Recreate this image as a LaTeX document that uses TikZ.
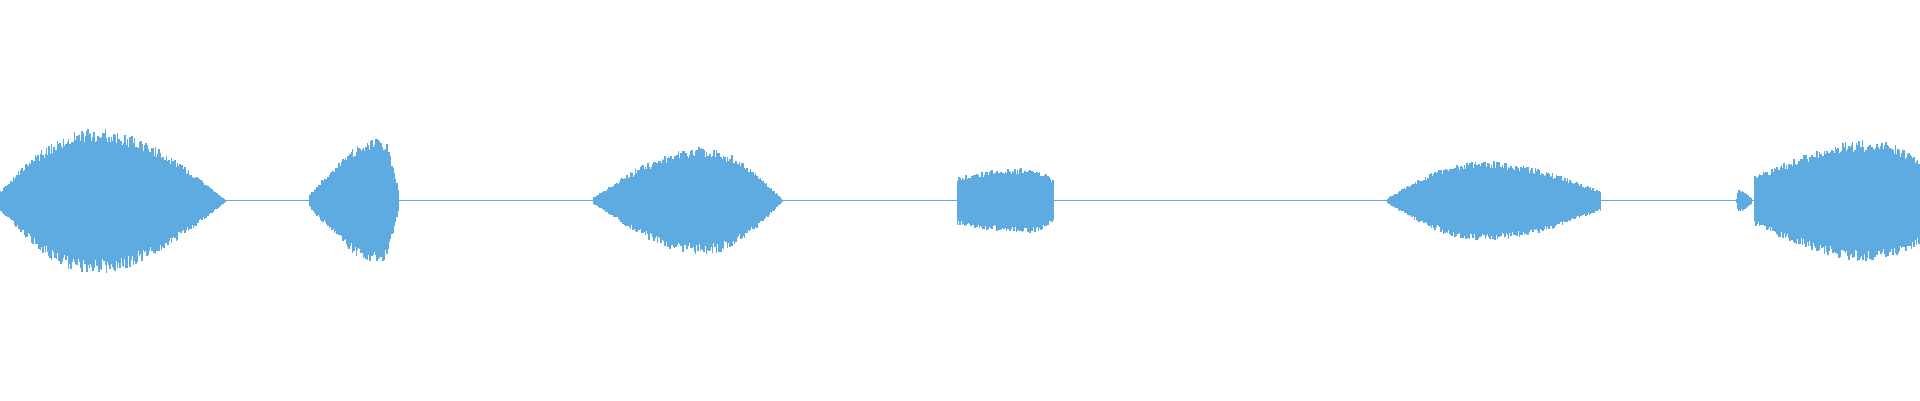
\documentclass[tikz,border=0pt]{standalone}
\usepackage{tikz}
\definecolor{wave}{RGB}{94,171,226}
% one burst: start, end, peak position, peak height, start height, end height
\newcommand{\burst}[6]{%
  \foreach \x in {#1,...,#2}{%
    \ifnum\x<#3
      \pgfmathsetmacro\h{#5+(#4-#5)*sin(90*(\x-#1)/(#3-#1))}
    \else
      \pgfmathsetmacro\h{#6+(#4-#6)*cos(90*(\x-#3)/(#2-#3))}
    \fi
    \pgfmathsetmacro\up{\h*(0.8+0.2*rnd)}
    \pgfmathsetmacro\dn{\h*(0.8+0.2*rnd)}
    \draw[wave line] (\x,-\dn) -- (\x,\up);
  }}
\begin{document}
\begin{tikzpicture}[x=0.012245cm,y=0.012245cm,
  wave line/.style={draw=wave,line width=0.45pt}]
  \useasboundingbox (0,-163) rectangle (1568,164);
  \pgfmathsetseed{7}
  % baseline
  \coordinate (start) at (0,0);
  \coordinate (stop) at (1568,0);
  \draw[draw=wave,line width=0.25pt] (start) -- (stop);
  % bursts
  \burst{0}{185}{75}{60}{8}{0}
  \burst{253}{325}{312}{52}{5}{10}
  \burst{485}{640}{575}{44}{3}{0}
  \burst{782}{860}{840}{27}{20}{18}
  \burst{1133}{1307}{1210}{33}{2}{8}
  \burst{1418}{1430}{1420}{9}{2}{3}
  \burst{1433}{1568}{1530}{50}{20}{35}
\end{tikzpicture}
\end{document}
